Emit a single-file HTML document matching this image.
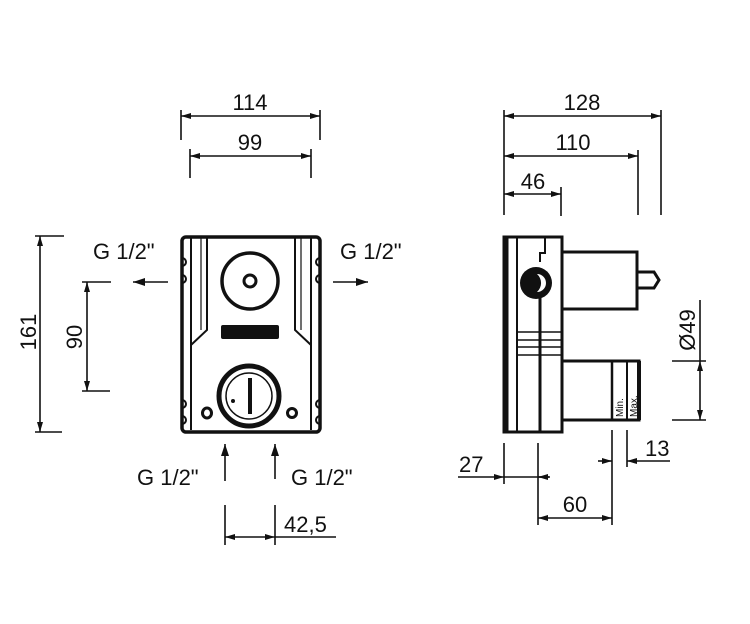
<!DOCTYPE html>
<html><head><meta charset="utf-8"><style>
html,body{margin:0;padding:0;background:#fff}
svg{display:block}
text{font-family:"Liberation Sans",sans-serif;font-size:22px;fill:#111}
</style></head><body>
<svg width="750" height="624" viewBox="0 0 750 624" xmlns="http://www.w3.org/2000/svg">
<defs>
<marker id="a" viewBox="0 0 10 6" refX="10" refY="3" markerWidth="10" markerHeight="6" markerUnits="userSpaceOnUse" orient="auto-start-reverse"><path d="M0,0L10,3L0,6z" fill="#111"/></marker>
<marker id="b" viewBox="0 0 12 8" refX="12" refY="4" markerWidth="12" markerHeight="8" markerUnits="userSpaceOnUse" orient="auto"><path d="M0,0L12,4L0,8z" fill="#111"/></marker>
</defs>
<g stroke="#111" stroke-width="1.6" fill="none">
<line x1="181" y1="110" x2="181" y2="140"/><line x1="320" y1="110" x2="320" y2="140"/>
<line x1="181" y1="116" x2="320" y2="116" marker-start="url(#a)" marker-end="url(#a)"/>
<line x1="190" y1="149" x2="190" y2="178"/><line x1="311" y1="149" x2="311" y2="178"/>
<line x1="190" y1="156" x2="311" y2="156" marker-start="url(#a)" marker-end="url(#a)"/>
<line x1="35" y1="236" x2="64" y2="236"/><line x1="35" y1="432" x2="62" y2="432"/>
<line x1="40" y1="236" x2="40" y2="432" marker-start="url(#a)" marker-end="url(#a)"/>
<line x1="82" y1="282" x2="111" y2="282"/><line x1="82" y1="391" x2="110" y2="391"/>
<line x1="87" y1="282" x2="87" y2="391" marker-start="url(#a)" marker-end="url(#a)"/>
<line x1="168" y1="282" x2="133" y2="282" marker-end="url(#b)"/>
<line x1="333" y1="282" x2="368" y2="282" marker-end="url(#b)"/>
<line x1="225" y1="481" x2="225" y2="444" marker-end="url(#b)"/>
<line x1="275" y1="479" x2="275" y2="444" marker-end="url(#b)"/>
<line x1="225" y1="505" x2="225" y2="545"/><line x1="275" y1="505" x2="275" y2="545"/>
<line x1="225" y1="537" x2="275" y2="537" marker-start="url(#a)" marker-end="url(#a)"/>
<line x1="275" y1="537" x2="336" y2="537"/>
</g>
<g stroke="#111" fill="none">
<rect x="182" y="237" width="138" height="195" rx="4" stroke-width="3.5"/>
<line x1="191" y1="238" x2="191" y2="430" stroke-width="2"/>
<line x1="311" y1="238" x2="311" y2="430" stroke-width="2"/>
<path d="M207,238 V330 L191,345 M295,238 V330 L311,345" stroke-width="2"/>
<line x1="201" y1="238" x2="201" y2="330" stroke-width="1.2"/>
<line x1="301" y1="238" x2="301" y2="330" stroke-width="1.2"/>
<path d="M182,258 a4,4 0 0 1 0,8 M182,275 a4,4 0 0 1 0,8 M320,258 a4,4 0 0 0 0,8 M320,275 a4,4 0 0 0 0,8 M182,400 a4,4 0 0 1 0,8 M182,416 a4,4 0 0 1 0,8 M320,400 a4,4 0 0 0 0,8 M320,416 a4,4 0 0 0 0,8" stroke-width="2"/>
<circle cx="250" cy="281" r="28" stroke-width="3.5"/>
<circle cx="250" cy="281" r="6" stroke-width="3"/>
<circle cx="249" cy="396" r="30" stroke-width="5"/>
<circle cx="249" cy="396" r="23" stroke-width="1.5"/>
<line x1="250" y1="378" x2="250" y2="414" stroke-width="4"/>
<circle cx="233" cy="401" r="2" fill="#111" stroke="none"/>
<ellipse cx="207" cy="413" rx="4.5" ry="5" stroke-width="3"/>
<circle cx="292" cy="413" r="4.5" stroke-width="3"/>
</g>
<rect x="221" y="325" width="58" height="14" rx="2" fill="#111"/>
<g stroke="#111" fill="none">
<rect x="504" y="237" width="58" height="195" stroke-width="3"/>
<line x1="507" y1="237" x2="507" y2="432" stroke-width="3"/>
<line x1="517" y1="237" x2="517" y2="432" stroke-width="2"/>
<line x1="540" y1="290" x2="540" y2="432" stroke-width="3"/>
<path d="M545,237 V253 H540 V262" stroke-width="2"/>
<line x1="517" y1="332" x2="562" y2="332" stroke-width="1.5"/>
<line x1="517" y1="340" x2="562" y2="340" stroke-width="1.5"/>
<line x1="517" y1="347" x2="562" y2="347" stroke-width="1.5"/>
<line x1="517" y1="355" x2="562" y2="355" stroke-width="1.5"/>
<path d="M562,252 H637 V309 H562" stroke-width="3"/>
<path d="M637,272 H654 L659,280 L654,288 H637" stroke-width="3"/>
<path d="M562,361 H639 V420 H562" stroke-width="3"/>
<line x1="612" y1="361" x2="612" y2="420" stroke-width="2.5"/>
<line x1="627" y1="361" x2="627" y2="420" stroke-width="2"/>
<line x1="639" y1="361" x2="639" y2="420" stroke-width="4"/>
</g>
<circle cx="536" cy="283" r="16" fill="#111"/>
<path d="M537,274 a9,9 0 0 1 0,18 a12,12 0 0 0 0,-18z" fill="#fff"/>
<text x="0" y="0" transform="translate(623,417) rotate(-90)" style="font-size:10px">Min.</text>
<text x="0" y="0" transform="translate(637,417) rotate(-90)" style="font-size:10px">Max.</text>
<g stroke="#111" stroke-width="1.6" fill="none">
<line x1="504" y1="110" x2="504" y2="215"/><line x1="661" y1="110" x2="661" y2="215"/>
<line x1="638" y1="150" x2="638" y2="215"/><line x1="561" y1="187" x2="561" y2="216"/>
<line x1="504" y1="116" x2="661" y2="116" marker-start="url(#a)" marker-end="url(#a)"/>
<line x1="504" y1="156" x2="638" y2="156" marker-start="url(#a)" marker-end="url(#a)"/>
<line x1="504" y1="194" x2="561" y2="194" marker-start="url(#a)" marker-end="url(#a)"/>
<line x1="700" y1="300" x2="700" y2="361"/>
<line x1="672" y1="361" x2="706" y2="361"/><line x1="672" y1="420" x2="706" y2="420"/>
<line x1="700" y1="361" x2="700" y2="420" marker-start="url(#a)" marker-end="url(#a)"/>
<line x1="504" y1="443" x2="504" y2="484"/><line x1="538" y1="443" x2="538" y2="525"/>
<line x1="458" y1="477" x2="504" y2="477" marker-end="url(#a)"/>
<line x1="504" y1="477" x2="550" y2="477"/>
<line x1="549" y1="477" x2="538" y2="477" marker-end="url(#a)"/>
<line x1="612" y1="430" x2="612" y2="525"/><line x1="627" y1="430" x2="627" y2="467"/>
<line x1="598" y1="461" x2="612" y2="461" marker-end="url(#a)"/>
<line x1="670" y1="461" x2="627" y2="461" marker-end="url(#a)"/>
<line x1="538" y1="518" x2="612" y2="518" marker-start="url(#a)" marker-end="url(#a)"/>
</g>
<text x="250" y="110" text-anchor="middle">114</text>
<text x="250" y="150" text-anchor="middle">99</text>
<text x="582" y="110" text-anchor="middle">128</text>
<text x="573" y="150" text-anchor="middle">110</text>
<text x="533" y="189" text-anchor="middle">46</text>
<text transform="translate(36,332) rotate(-90)" text-anchor="middle">161</text>
<text transform="translate(82,337) rotate(-90)" text-anchor="middle">90</text>
<text transform="translate(695,330) rotate(-90)" text-anchor="middle">Ø49</text>
<text x="93" y="259">G 1/2"</text>
<text x="340" y="259">G 1/2"</text>
<text x="137" y="485">G 1/2"</text>
<text x="291" y="485">G 1/2"</text>
<text x="284" y="532">42,5</text>
<text x="459" y="472">27</text>
<text x="645" y="456">13</text>
<text x="575" y="512" text-anchor="middle">60</text>
</svg>
</body></html>
